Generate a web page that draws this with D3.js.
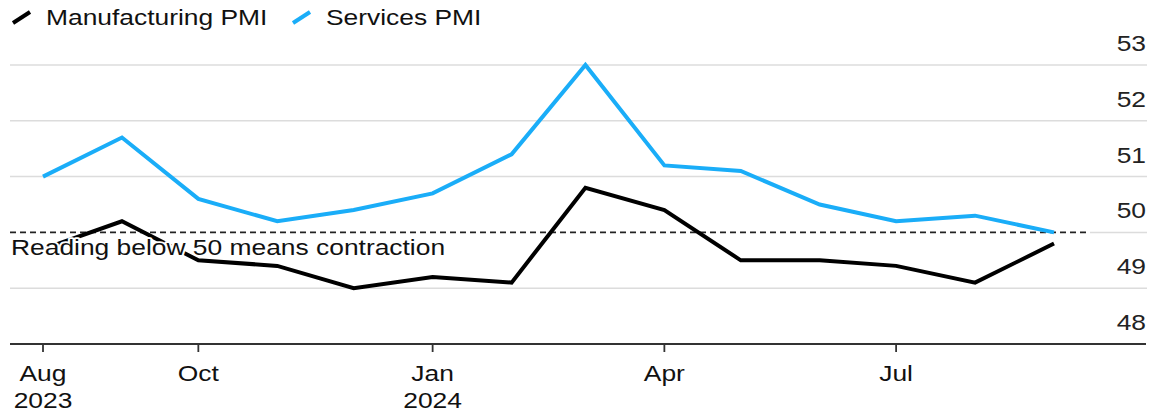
<!DOCTYPE html>
<html><head><meta charset="utf-8">
<script src="https://cdn.jsdelivr.net/npm/d3@7"></script>
<style>body{margin:0;background:#fff}svg{display:block;font-family:"Liberation Sans",Arial,sans-serif}</style>
</head><body><svg id="c" width="1150" height="413"></svg>
<script>
const months = ["2023-08","2023-09","2023-10","2023-11","2023-12","2024-01","2024-02","2024-03","2024-04","2024-05","2024-06","2024-07","2024-08","2024-09"];
const manufacturing = [49.7,50.2,49.5,49.4,49.0,49.2,49.1,50.8,50.4,49.5,49.5,49.4,49.1,49.8];
const services = [51.0,51.7,50.6,50.2,50.4,50.7,51.4,53.0,51.2,51.1,50.5,50.2,50.3,50.0];
const yTicks = [48,49,50,51,52,53];
const xTicks = [{d:"2023-08",l:["Aug","2023"]},{d:"2023-10",l:["Oct"]},{d:"2024-01",l:["Jan","2024"]},{d:"2024-04",l:["Apr"]},{d:"2024-07",l:["Jul"]}];
const seriesNames = ["Manufacturing PMI","Services PMI"];
const colors = ["#000000","#1aadf8"];
const annotation = "Reading below 50 means contraction";

const FS = 22, SX = 1.2;
const parse = d3.timeParse("%Y-%m");
const svg = d3.select("#c");
const x = d3.scaleTime().domain([parse("2023-08"),parse("2024-09")]).range([43,1054]);
const y = d3.scaleLinear().domain([48,53]).range([344,65]);

function label(sel, tx, ty, anchor, txt){
  return sel.append("text").attr("transform",`translate(${tx},${ty}) scale(${SX},1)`)
    .attr("text-anchor",anchor).attr("font-size",FS).attr("fill","#111").text(txt);
}

// gridlines
svg.append("g").selectAll("line").data(yTicks.filter(t=>t!==48 && t!==50)).join("line")
  .attr("x1",10).attr("x2",1147).attr("y1",d=>y(d)).attr("y2",d=>y(d))
  .attr("stroke","#dcdcdc").attr("stroke-width",1.5);
svg.append("line").attr("x1",1090).attr("x2",1147).attr("y1",y(50)).attr("y2",y(50))
  .attr("stroke","#dcdcdc").attr("stroke-width",1.5);
// y labels
yTicks.forEach(t=>label(svg,1146,y(t)-14,"end",t).attr("fill","#222"));

// dashed 50 line
svg.append("line").attr("x1",10).attr("x2",1090).attr("y1",y(50)).attr("y2",y(50))
  .attr("stroke","#222").attr("stroke-width",1.6).attr("stroke-dasharray","6,4");

// lines
const line = d3.line().x((d,i)=>x(parse(months[i]))).y(d=>y(d));
[manufacturing,services].forEach((s,k)=>{
  svg.append("path").datum(s).attr("d",line).attr("fill","none")
    .attr("stroke",colors[k]).attr("stroke-width",4).attr("stroke-linejoin","miter");
});

// annotation
label(svg,11,255,"start",annotation)
  .attr("stroke","#fff").attr("stroke-width",3.5).attr("paint-order","stroke").attr("stroke-linejoin","round");

// x axis
svg.append("line").attr("x1",10).attr("x2",1146).attr("y1",344).attr("y2",344)
  .attr("stroke","#333").attr("stroke-width",1.8);
xTicks.forEach(d=>{
  const px = x(parse(d.d));
  svg.append("line").attr("x1",px).attr("x2",px).attr("y1",344).attr("y2",352).attr("stroke","#333").attr("stroke-width",1.8);
  d.l.forEach((t,i)=>label(svg,px,381+i*27,"middle",t));
});

// legend
const legX = [12,292];
const legT = [46,326];
seriesNames.forEach((n,k)=>{
  svg.append("line").attr("x1",legX[k]+1).attr("y1",23).attr("x2",legX[k]+18).attr("y2",12)
    .attr("stroke",colors[k]).attr("stroke-width",4);
  label(svg,legT[k],25,"start",n);
});
</script></body></html>
